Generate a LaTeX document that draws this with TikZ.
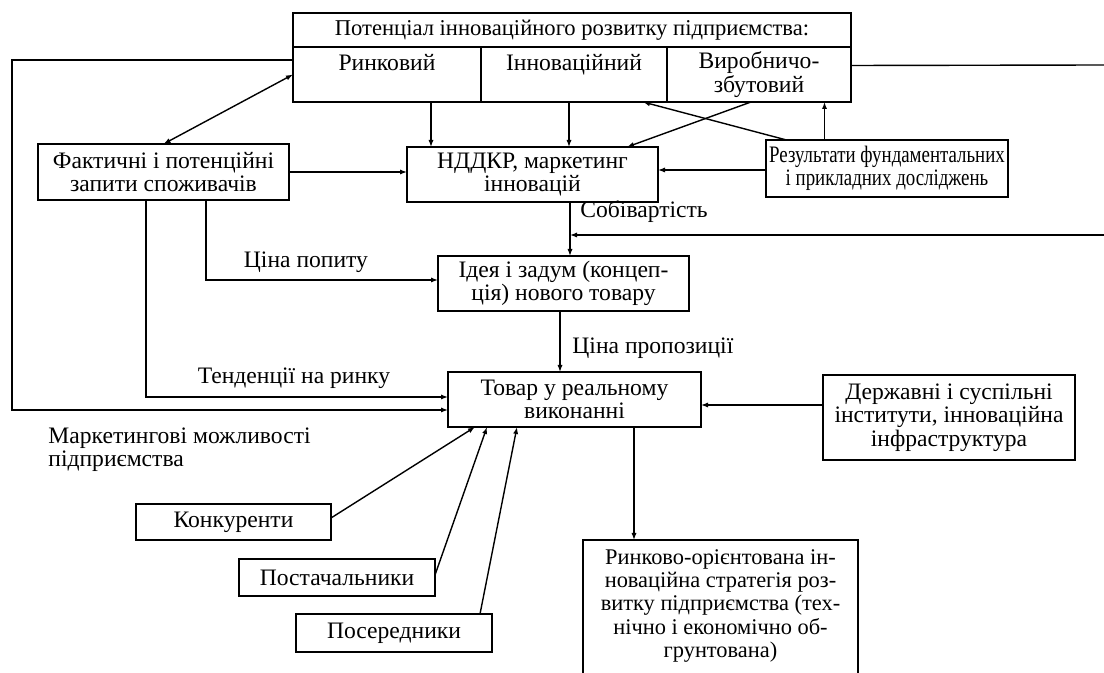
\documentclass[tikz,border=0pt]{standalone}
\usepackage{fontspec}
\setmainfont{Liberation Serif}
\newfontfamily\narrowfont[FakeStretch=0.8]{Liberation Serif}
\usetikzlibrary{arrows.meta,calc,positioning}

\begin{document}
\begin{tikzpicture}[
    x=0.5pt, y=-0.5pt,
    every node/.style={font=\fontsize{11.8}{11.65}\selectfont, inner sep=0pt},
    box/.style={draw, line width=0.7pt, outer sep=0pt, align=center},
    lbl/.style={align=left},
    flow/.style={-{Latex[length=3.5pt,width=2.6pt]}, line width=0.7pt},
    both/.style={{Latex[length=3.5pt,width=2.6pt]}-{Latex[length=3.5pt,width=2.6pt]}, line width=0.7pt},
    link/.style={line width=0.7pt}
]
\useasboundingbox (0,0) rectangle (1104,673);
\clip (0,0) rectangle (1104,673);

% potential of the enterprise
\node[box, minimum width=279pt, minimum height=17pt, font=\fontsize{11.3}{11.65}\selectfont] (title) at (572,30) {Потенціал інноваційного розвитку підприємства:};
\node[box, minimum width=94pt, minimum height=27.5pt, anchor=north west] (rynk) at (title.south west) {Ринковий\\\mbox{}};
\node[box, minimum width=93pt, minimum height=27.5pt, right=0pt of rynk] (innov) {Інноваційний\\\mbox{}};
\node[box, minimum width=92pt, minimum height=27.5pt, right=0pt of innov] (vyrob) {Виробничо-\\збутовий};

\node[box, minimum width=125.5pt, minimum height=28pt] (fakt) at (163.5,172) {Фактичні і потенційні\\запити споживачів};
\node[box, minimum width=125.5pt, minimum height=27.5pt] (nddkr) at (532.5,174.5) {НДДКР, маркетинг\\інновацій};
\node[box, minimum width=121pt, minimum height=28.5pt, font=\narrowfont\fontsize{11.8}{11.65}\selectfont] (rezult) at (887,168.5) {Результати фундаментальних\\і прикладних досліджень};
\node[box, minimum width=125.5pt, minimum height=27.5pt] (ideya) at (563.5,283.5) {Ідея і задум (концеп-\\ція) нового товару};
\node[box, minimum width=126.5pt, minimum height=27.5pt] (tovar) at (574.5,399.5) {Товар у реальному\\виконанні};
\node[box, minimum width=126pt, minimum height=42.5pt] (derzh) at (949,417.5) {Державні і суспільні\\інститути, інноваційна\\інфраструктура};
\node[box, minimum width=97.5pt, minimum height=18pt] (konk) at (233.5,522) {Конкуренти};
\node[box, minimum width=98pt, minimum height=18.5pt] (post) at (337,577.5) {Постачальники};
\node[box, minimum width=98pt, minimum height=19pt] (poser) at (394,633) {Посередники};
\node[box, minimum width=137.5pt, minimum height=75pt, anchor=north, font=\fontsize{11.2}{11.65}\selectfont] (strat) at (720.5,540) {Ринково-орієнтована ін-\\новаційна стратегія роз-\\витку підприємства (тех-\\нічно і економічно об-\\грунтована)\\\mbox{}};

% labels
\node[lbl, anchor=west] (sobiv) at (580,212) {Собівартість};
\node (popyt) at (306,262) {Ціна попиту};
\node (tend) at (294,378) {Тенденції на ринку};
\node[lbl, anchor=west] (mozhl) at (48,450) {Маркетингові можливості\\підприємства};
\node[lbl, anchor=west] (propoz) at (572,348) {Ціна пропозиції};

\coordinate (lft) at (12,60);
\coordinate (rgt1) at (1104,65);
\coordinate (rgt2) at (1104,235);

% links
\draw[flow] (rynk.west |- lft) -- (lft) |- ($(tovar.west)+(0,10.5)$);
\draw[flow] ($(fakt.south)+(-17.5,0)$) |- ($(tovar.west)+(0,-2.5)$);
\draw[flow] ($(fakt.south)+(42.5,0)$) |- ($(ideya.west)+(0,-3.5)$);
\draw[both] (fakt.north) -- (rynk.west);
\draw[flow] (fakt.east) -- (fakt.east -| nddkr.west);
\draw[flow] ($(rynk.south)+(44,0)$) coordinate (r1) -- (r1 |- nddkr.north);
\draw[flow] ($(innov.south)+(-5,0)$) coordinate (i1) -- (i1 |- nddkr.north);
\draw[flow] ($(vyrob.south)+(-8,0)$) -- ($(nddkr.north)+(94.5,0)$);
\draw[flow] ($(rezult.north)+(-100.5,0)$) -- ($(innov.south)+(69,0)$);
\draw[flow] ($(rezult.north)+(-62.5,0)$) coordinate (z1) -- (z1 |- vyrob.south);
\draw[flow] ($(rezult.west)+(0,1.5)$) coordinate (z2) -- (z2 -| nddkr.east);
\draw[link] ($(vyrob.east)+(0,-9)$) -- (rgt1);
\draw[flow] ($(nddkr.south)+(37.5,0)$) coordinate (n1) -- (n1 |- ideya.north);
\draw[flow] (rgt2) -- (rgt2 -| n1);
\draw[flow] ($(ideya.south)+(-3.5,0)$) coordinate (d1) -- (d1 |- tovar.north);
\draw[flow] ($(derzh.west)+(0,-12.5)$) coordinate (g1) -- (g1 -| tovar.east);
\draw[flow] ($(konk.east)+(0,-4)$) -- ($(tovar.south)+(-99.5,0)$);
\draw[flow] ($(post.east)+(0,-2.5)$) -- ($(tovar.south)+(-87.5,0)$);
\draw[flow] ($(poser.north)+(86,0)$) -- ($(tovar.south)+(-57.5,0)$);
\draw[flow] ($(tovar.south)+(59.5,0)$) coordinate (t1) -- (t1 |- strat.north);
\end{tikzpicture}
\end{document}
